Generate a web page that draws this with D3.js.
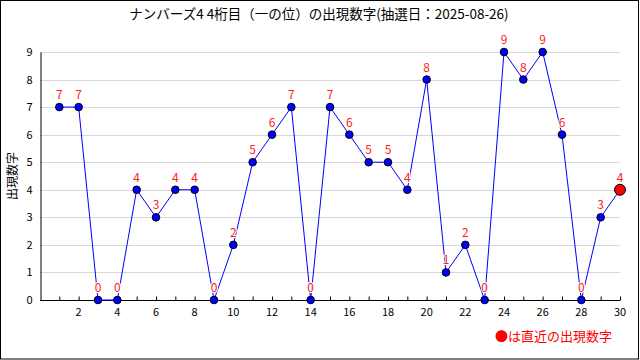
<!DOCTYPE html>
<html><head><meta charset="utf-8">
<script src="https://cdn.jsdelivr.net/npm/d3@7"></script>
<style>body{margin:0;background:#fff}svg{display:block}text{font-family:"Noto Sans CJK JP","DejaVu Sans",sans-serif}</style>
</head><body>
<script>
const title = "ナンバーズ4 4桁目（一の位）の出現数字(抽選日：2025-08-26)";
const yLabel = "出現数字";
const legendText = "●は直近の出現数字";
const draws = d3.range(1, 31);
const values = [7,7,0,0,4,3,4,4,0,2,5,6,7,0,7,6,5,5,4,8,1,2,0,9,8,9,6,0,3,4];
const xTickLabels = [2,4,6,8,10,12,14,16,18,20,22,24,26,28,30];
const yTicks = [0,1,2,3,4,5,6,7,8,9];

const W = 640, H = 360;
const svg = d3.select("body").append("svg").attr("width", W).attr("height", H);
svg.append("rect").attr("x",0.5).attr("y",0.5).attr("width",638).attr("height",358.5)
  .attr("fill","#fff").attr("stroke","#000");

const x = d3.scaleLinear().domain([0,30]).range([40,620]);
const y = d3.scaleLinear().domain([0,9]).range([300,52]);

// grid
svg.append("g").selectAll("line").data(yTicks.slice(1)).join("line")
  .attr("x1",40).attr("x2",620).attr("y1",d=>Math.round(y(d))+0.5).attr("y2",d=>Math.round(y(d))+0.5)
  .attr("stroke","#d8d8d8");

// y axis
const ya = svg.append("g").attr("transform","translate(40.5,0)")
  .call(d3.axisLeft(y).tickValues(yTicks).tickSize(0).tickPadding(8));
ya.select(".domain").attr("stroke","#000");
ya.selectAll("text").attr("font-size",11).attr("fill","#000");

// x axis
const xa = svg.append("g").attr("transform","translate(0,300.5)")
  .call(d3.axisTop(x).tickValues(draws).tickSize(4).tickFormat(""));
xa.select(".domain").attr("stroke","#000").attr("d","M40,0H620");
xa.selectAll(".tick line").attr("stroke","#000");
svg.append("g").selectAll("text").data(xTickLabels).join("text")
  .attr("x",d=>x(d)).attr("y",316).attr("text-anchor","middle").attr("font-size",11).text(d=>d);

// title
svg.append("text").attr("x",319).attr("y",19).attr("text-anchor","middle").attr("font-size",13.5).text(title);
// y label
svg.append("text").attr("transform","translate(17,176) rotate(-90)").attr("text-anchor","middle")
  .attr("font-size",12).text(yLabel);

// line
const pts = draws.map((d,i)=>({d, v: values[i]}));
svg.append("path").datum(pts).attr("fill","none").attr("stroke","#0000ff").attr("stroke-width",1)
  .attr("d", d3.line().x(p=>x(p.d)).y(p=>y(p.v)));

// points
svg.append("g").selectAll("circle").data(pts).join("circle")
  .attr("cx",p=>x(p.d)).attr("cy",p=>y(p.v))
  .attr("r",(p,i)=>i===pts.length-1?5.5:3.8)
  .attr("fill",(p,i)=>i===pts.length-1?"#ff0000":"#0000ff").attr("stroke","#000").attr("stroke-width",1);

// value labels
svg.append("g").selectAll("text").data(pts).join("text")
  .attr("x",p=>x(p.d)).attr("y",p=>y(p.v)-8).attr("text-anchor","middle").attr("font-size",12)
  .attr("fill","#ff2020").attr("stroke","#fff").attr("stroke-width",2).attr("paint-order","stroke")
  .text(p=>p.v);

// legend
svg.append("text").attr("x",612).attr("y",341).attr("text-anchor","end").attr("font-size",13)
  .attr("fill","#ff0000").text(legendText);
</script>
</body></html>
